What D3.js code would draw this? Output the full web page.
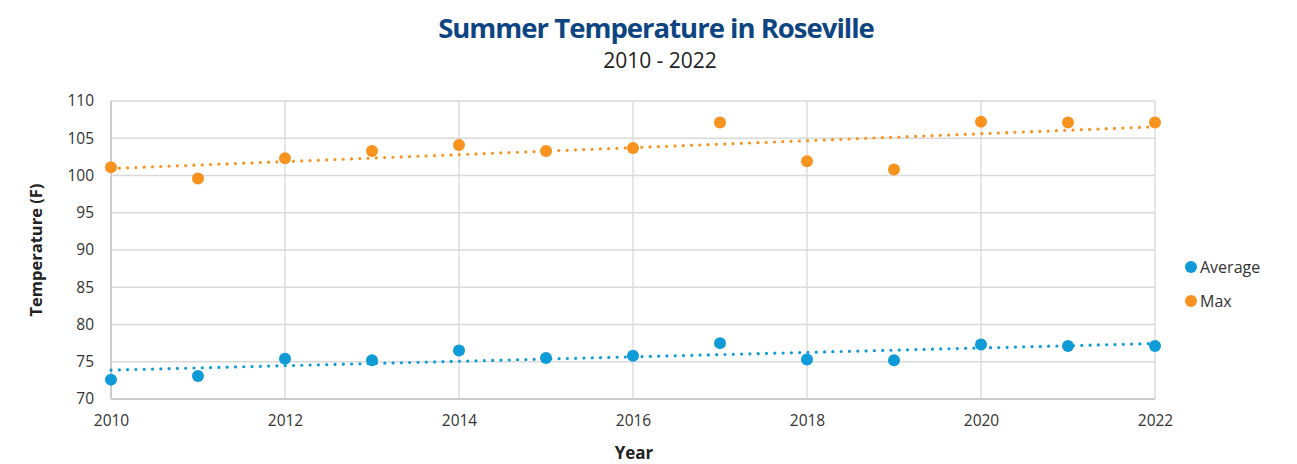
<!DOCTYPE html>
<html>
<head>
<meta charset="utf-8">
<script src="https://cdn.jsdelivr.net/npm/d3@7"></script>
<style>
  body { margin: 0; background: #fff; }
  text { font-family: "Open Sans", "Noto Sans", sans-serif; }
  .axis path, .axis line { stroke: none; }
  .axis text { fill: #333; font-size: 15.5px; }
</style>
</head>
<body>
<div class="chart-container"></div>
<script>
// data
const years = [2010, 2011, 2012, 2013, 2014, 2015, 2016, 2017, 2018, 2019, 2020, 2021, 2022];
const averageTemp = [72.6, 73.1, 75.4, 75.2, 76.5, 75.5, 75.8, 77.5, 75.3, 75.2, 77.3, 77.1, 77.1];
const maxTemp = [101.1, 99.6, 102.3, 103.3, 104.1, 103.3, 103.7, 107.1, 101.9, 100.8, 107.2, 107.1, 107.1];
const yTicks = [70, 75, 80, 85, 90, 95, 100, 105, 110];
const xTicks = [2010, 2012, 2014, 2016, 2018, 2020, 2022];
const seriesNames = ['Average', 'Max'];
const seriesColors = ['#0f9bd7', '#f7931e'];

// least squares trend line, like the spreadsheet's linear trendline
function trend(xs, ys){
    const mx = d3.mean(xs), my = d3.mean(ys);
    const slope = d3.sum(xs, (x, i) => (x - mx) * (ys[i] - my)) / d3.sum(xs, x => (x - mx) ** 2);
    return x => my + slope * (x - mx);
}

const series = seriesNames.map((name, i) => ({
    name: name,
    color: seriesColors[i],
    values: (i === 0 ? averageTemp : maxTemp).map((v, j) => ({year: years[j], value: v}))
}));

const svg_width = 1297, svg_height = 464;
const margin = {top: 101, right: 142, bottom: 65, left: 111};
const chart_width = svg_width - margin.left - margin.right;
const chart_height = svg_height - margin.top - margin.bottom;

const svg = d3.select('.chart-container').append('svg')
    .attr('width', svg_width).attr('height', svg_height);
const g = svg.append('g').attr('transform', `translate(${margin.left},${margin.top})`);

const xScale = d3.scaleLinear().domain([2010, 2022]).range([0, chart_width]);
const yScale = d3.scaleLinear().domain([70, 110]).range([chart_height, 0]);

// grid
g.append('g').selectAll('line.hgrid').data(yTicks).enter()
    .append('line').attr('class', 'hgrid')
    .attr('x1', 0).attr('x2', chart_width)
    .attr('y1', d => yScale(d)).attr('y2', d => yScale(d))
    .style('stroke', '#d9d9d9').style('stroke-width', 1.3);
g.append('g').selectAll('line.vgrid').data(xTicks).enter()
    .append('line').attr('class', 'vgrid')
    .attr('x1', d => xScale(d)).attr('x2', d => xScale(d))
    .attr('y1', 0).attr('y2', chart_height)
    .style('stroke', '#d9d9d9').style('stroke-width', 1.3);
// axis lines
g.append('line').attr('x1', 0).attr('x2', 0).attr('y1', 0).attr('y2', chart_height)
    .style('stroke', '#c4c4c4').style('stroke-width', 1.5);
g.append('line').attr('x1', 0).attr('x2', chart_width).attr('y1', chart_height).attr('y2', chart_height)
    .style('stroke', '#c4c4c4').style('stroke-width', 1.5);

// axes
const xAxis = d3.axisBottom(xScale).tickValues(xTicks).tickFormat(d3.format('d')).tickSize(0).tickPadding(16);
g.append('g').attr('class', 'x axis')
    .attr('transform', `translate(0,${chart_height})`)
    .call(xAxis);
const yAxis = d3.axisLeft(yScale).tickValues(yTicks).tickSize(0).tickPadding(17);
g.append('g').attr('class', 'y axis').call(yAxis);

// trend lines
const lineGen = d3.line().x(d => xScale(d.year)).y(d => yScale(d.value));
series.forEach(s => {
    const f = trend(years, s.values.map(d => d.value));
    const ends = [years[0], years[years.length - 1]].map(y => ({year: y, value: f(y)}));
    g.append('path')
        .attr('d', lineGen(ends))
        .style('fill', 'none').style('stroke', s.color)
        .style('stroke-width', 3.2).style('stroke-linecap', 'round')
        .style('stroke-dasharray', '0 8.3');
});

// points
series.forEach(s => {
    g.append('g').selectAll('circle').data(s.values).enter()
        .append('circle')
        .attr('cx', d => xScale(d.year)).attr('cy', d => yScale(d.value))
        .attr('r', 6)
        .style('fill', s.color);
});

// titles
svg.append('text').text('Summer Temperature in Roseville')
    .attr('x', 656).attr('y', 38).attr('text-anchor', 'middle')
    .style('font-size', '27.5px').style('font-weight', 'bold')
    .style('letter-spacing', '-1px').style('fill', '#0d4583');
svg.append('text').text('2010 - 2022')
    .attr('x', 660).attr('y', 68).attr('text-anchor', 'middle')
    .style('font-size', '21px').style('fill', '#222');

svg.append('text').text('Year')
    .attr('x', 634).attr('y', 459).attr('text-anchor', 'middle')
    .style('font-size', '17px').style('font-weight', 'bold').style('fill', '#222');
svg.append('text').text('Temperature (F)')
    .attr('transform', 'translate(42,250) rotate(-90)').attr('text-anchor', 'middle')
    .style('font-size', '16.5px').style('font-weight', 'bold').style('fill', '#222');

// legend
const legend = svg.append('g').attr('class', 'legend')
    .attr('transform', 'translate(1191,267)');
const items = legend.selectAll('g').data(series).enter()
    .append('g').attr('transform', (d, i) => `translate(0,${i * 34})`);
items.append('circle').attr('r', 6).style('fill', d => d.color);
items.append('text').text(d => d.name)
    .attr('x', 9).attr('dy', '0.35em')
    .style('font-size', '16px').style('fill', '#333');
</script>
</body>
</html>
